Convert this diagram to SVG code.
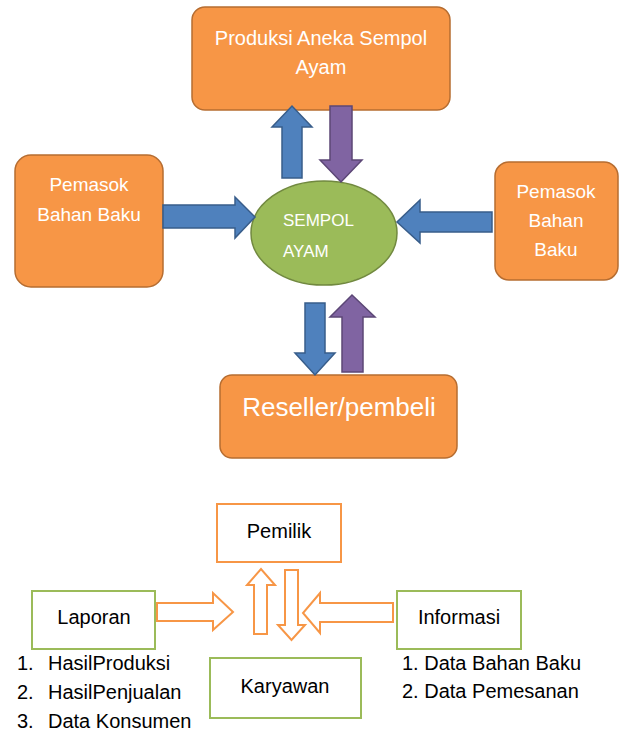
<svg xmlns="http://www.w3.org/2000/svg" width="622" height="733" viewBox="0 0 622 733">
<style>
.ob{fill:#F79646;stroke:#B66D31;stroke-width:1.5}
.wt{fill:#FFFFFF;font-family:"Liberation Sans",Arial,sans-serif;text-anchor:middle}
.bl{fill:#4F81BD;stroke:#385D8A;stroke-width:1.5}
.pu{fill:#8064A2;stroke:#5C4776;stroke-width:1.5}
.ho{fill:#FFFFFF;stroke:#F79646;stroke-width:2}
.gb{fill:#FFFFFF;stroke:#9BBB59;stroke-width:2}
.obx{fill:#FFFFFF;stroke:#F79646;stroke-width:2}
.bk{fill:#000000;font-family:"Liberation Sans",Arial,sans-serif}
.bc{text-anchor:middle;font-size:20px}
</style>
<rect width="622" height="733" fill="#FFFFFF"/>
<g id="produksi">
<rect class="ob" x="192" y="7" width="258" height="103" rx="13"/>
<text class="wt" x="321" y="45" font-size="20">Produksi Aneka Sempol</text>
<text class="wt" x="321" y="74" font-size="20">Ayam</text>
</g>
<g id="pemasok-kiri">
<rect class="ob" x="15" y="155" width="148" height="132" rx="16"/>
<text class="wt" x="89" y="191" font-size="19">Pemasok</text>
<text class="wt" x="89" y="221" font-size="19">Bahan Baku</text>
</g>
<g id="pemasok-kanan">
<rect class="ob" x="495" y="162" width="123" height="118" rx="14"/>
<text class="wt" x="556" y="198" font-size="19">Pemasok</text>
<text class="wt" x="556" y="227" font-size="19">Bahan</text>
<text class="wt" x="556" y="256" font-size="19">Baku</text>
</g>
<g id="sempol">
<ellipse cx="324" cy="233" rx="73" ry="52" fill="#9BBB59" stroke="#71893F" stroke-width="1.5"/>
<text class="wt" x="283" y="226" font-size="17" style="text-anchor:start">SEMPOL</text>
<text class="wt" x="283" y="257" font-size="17" style="text-anchor:start">AYAM</text>
</g>
<g id="reseller">
<rect class="ob" x="220" y="375" width="237" height="83" rx="12"/>
<text class="wt" x="339" y="416" font-size="26">Reseller/pembeli</text>
</g>
<g id="connectors">
<polygon class="bl" points="282,178 282,127 272,127 292,106 312,127 302,127 302,178"/>
<polygon class="pu" points="330,106 352,106 352,160 362,160 341,182 320,160 330,160"/>
<polygon class="bl" points="163,205 235,205 235,197 255,217 235,238 235,228 163,228"/>
<polygon class="bl" points="492,212 420,212 420,200 397,222 420,243 420,232 492,232"/>
<polygon class="bl" points="305,303 325,303 325,353 335,353 315,375 295,353 305,353"/>
<polygon class="pu" points="342,372 342,317 330,317 352,295 375,317 363,317 363,372"/>
<polygon class="ho" points="157,603 213,603 213,593 233,612 213,630 213,621 157,621"/>
<polygon class="ho" points="254,634 254,585 247,585 261,569 275,585 267,585 267,634"/>
<polygon class="ho" points="285,570 298,570 298,625 305,625 291.5,640 278,625 285,625"/>
<polygon class="ho" points="393,603 320,603 320,593 303,613 320,633 320,622 393,622"/>
</g>
<g id="pemilik">
<rect class="obx" x="217" y="504" width="124" height="58"/>
<text class="bk bc" x="279" y="538">Pemilik</text>
</g>
<g id="laporan">
<rect class="gb" x="32" y="591" width="123" height="58"/>
<text class="bk bc" x="94" y="624">Laporan</text>
</g>
<g id="informasi">
<rect class="gb" x="397" y="591" width="124" height="58"/>
<text class="bk bc" x="459" y="624">Informasi</text>
</g>
<g id="karyawan">
<rect class="gb" x="210" y="658" width="151" height="60"/>
<text class="bk bc" x="285" y="693">Karyawan</text>
</g>
<g id="list-laporan" class="bk" font-size="20">
<text x="17" y="670">1.</text><text x="48" y="670">HasilProduksi</text>
<text x="17" y="699">2.</text><text x="48" y="699">HasilPenjualan</text>
<text x="17" y="728">3.</text><text x="48" y="728">Data Konsumen</text>
</g>
<g id="list-informasi" class="bk" font-size="20">
<text x="402" y="670">1. Data Bahan Baku</text>
<text x="402" y="698">2. Data Pemesanan</text>
</g>
</svg>
